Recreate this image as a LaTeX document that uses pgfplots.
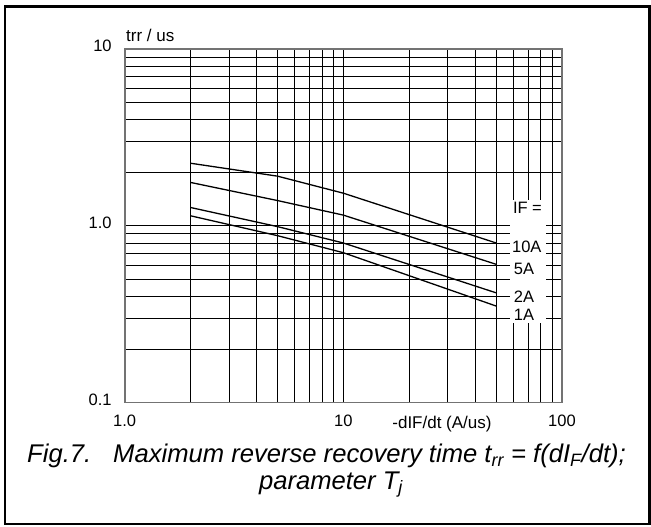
\documentclass[border=0pt]{standalone}
\usepackage{pgfplots}
\pgfplotsset{compat=1.18}
\usepackage{fontspec}
\setmainfont{Liberation Sans}

% trr vs -dIF/dt, one series per forward current
\pgfplotstableread{
x y
2 2.26
5 1.91
10 1.53
50 0.80
}\tenA
\pgfplotstableread{
x y
2 1.76
5 1.39
10 1.15
50 0.606
}\fiveA
\pgfplotstableread{
x y
2 1.27
5 0.99
10 0.80
50 0.418
}\twoA
\pgfplotstableread{
x y
2 1.14
5 0.88
10 0.705
50 0.352
}\oneA

\begin{document}
\begin{tikzpicture}[x=1pt,y=1pt]
\useasboundingbox (0,0) rectangle (651,527);
\draw[line width=2.5pt] (5,3) rectangle (649.5,520.5);
\begin{loglogaxis}[
    at={(124.7pt,124.3pt)}, anchor=south west,
    scale only axis, width=437.3pt, height=353.7pt,
    xmin=1, xmax=100, ymin=0.1, ymax=10,
    xtick={1,10,100}, xticklabels={1.0,10,100},
    ytick={0.1,1,10}, yticklabels={0.1,1.0,10},
    major tick length=0pt, minor tick length=0pt,
    grid=both,
    major grid style={black, line width=0.9pt},
    minor grid style={black, line width=0.9pt},
    axis line style={black!55, line width=1.6pt},
    tick label style={font=\fontsize{16.5}{18}\selectfont},
    xticklabel style={yshift=-9pt},
    yticklabel style={anchor=east, xshift=-9.5pt, yshift=3pt},
]
\addplot[black, line width=1.3pt] table[x=x,y=y] {\tenA};
\addplot[black, line width=1.3pt] table[x=x,y=y] {\fiveA};
\addplot[black, line width=1.3pt] table[x=x,y=y] {\twoA};
\addplot[black, line width=1.3pt] table[x=x,y=y] {\oneA};
\fill[white] (axis cs:57.8,1.40) rectangle (axis cs:84.6,0.282);
\begin{scope}[every node/.style={font=\fontsize{16.5}{18}\selectfont, inner sep=0pt}]
\node at (axis cs:69.5,1.26) {IF =};
\node at (axis cs:69.0,0.762) {10A};
\node at (axis cs:67.0,0.569) {5A};
\node at (axis cs:67.0,0.397) {2A};
\node at (axis cs:67.0,0.313) {1A};
\end{scope}
\end{loglogaxis}
\node[anchor=base west, inner sep=0pt, font=\fontsize{17}{18}\selectfont] at (126,485.3) {trr / us};
\node[anchor=base, inner sep=0pt, font=\fontsize{17}{18}\selectfont] at (442,98.7) {-dIF/dt (A/us)};
\node[anchor=base, inner sep=0pt, font=\fontsize{25.6}{28}\selectfont\itshape] at (326.5,64.3)
    {Fig.7.\hspace{22pt}Maximum reverse recovery time t\textsubscript{rr} = f(dI\textsubscript{F}/dt);};
\node[anchor=base, inner sep=0pt, font=\fontsize{25.6}{28}\selectfont\itshape] at (331,37.7)
    {parameter T\textsubscript{j}};
\end{tikzpicture}
\end{document}
